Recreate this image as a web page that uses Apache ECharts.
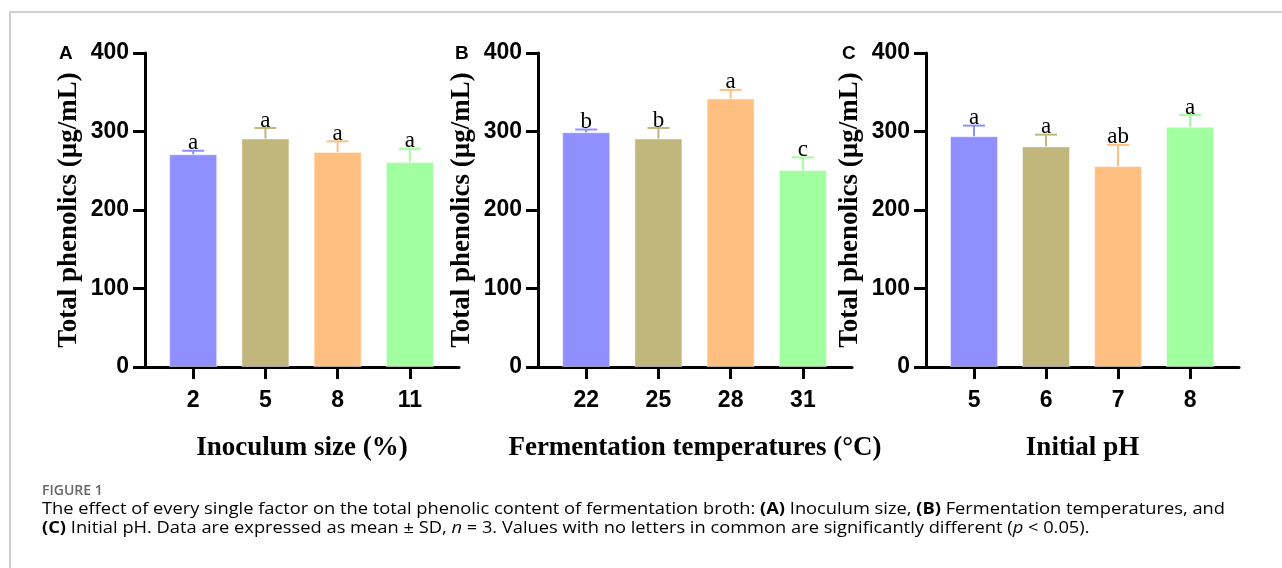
<!DOCTYPE html>
<html>
<head>
<meta charset="utf-8">
<style>
  html, body { margin: 0; padding: 0; background: #fff; }
  #chart { width: 1282px; height: 568px; }
</style>
<script src="https://cdn.jsdelivr.net/npm/echarts@6/dist/echarts.min.js"></script>
</head>
<body>
<div id="chart"></div>
<script>
// ---- data ----
const panelLetters = ['A', 'B', 'C'];
const catsA = ['2', '5', '8', '11'];
const meanA = [271, 291, 274, 261];
const sdA = [4.5, 13.5, 13.5, 17];
const sigA = ['a', 'a', 'a', 'a'];

const catsB = ['22', '25', '28', '31'];
const meanB = [299, 291, 342, 251];
const sdB = [3.5, 13.5, 11, 16];
const sigB = ['b', 'b', 'a', 'c'];

const catsC = ['5', '6', '7', '8'];
const meanC = [294, 281, 256, 306];
const sdC = [13.5, 15, 27, 15];
const sigC = ['a', 'a', 'ab', 'a'];

const xTitles = ['Inoculum size (%)', 'Fermentation temperatures (°C)', 'Initial pH'];
const yTitle = 'Total phenolics (µg/mL)';
const barColors = ['#8f8fff', '#c1b67c', '#ffbf80', '#a1ff9f'];

const captionHead = 'FIGURE 1';
const captionLine1 = [
  ['n', 'The effect of every single factor on the total phenolic content of fermentation broth: '],
  ['b', '(A)'], ['n', ' Inoculum size, '], ['b', '(B)'], ['n', ' Fermentation temperatures, and']
];
const captionLine2 = [
  ['b', '(C)'], ['n', ' Initial pH. Data are expressed as mean ± SD, '], ['i', 'n'],
  ['n', ' = 3. Values with no letters in common are significantly different ('], ['i', 'p'], ['n', ' < 0.05).']
];

// ---- build ----
const panels = [
  { cats: catsA, mean: meanA, sd: sdA, sig: sigA },
  { cats: catsB, mean: meanB, sd: sdB, sig: sigB },
  { cats: catsC, mean: meanC, sd: sdC, sig: sigC }
];
const gridLefts = [145, 538, 926];
const gridWidths = [314, 314, 313];
const labelX = [59, 455, 842];

const chart = echarts.init(document.getElementById('chart'), null, { renderer: 'canvas' });

const grid = [], xAxis = [], yAxis = [], series = [], graphic = [];
const idx = [0, 1, 2, 3];
const sansBold = 'Liberation Sans, Arial, sans-serif';
const serif = 'Liberation Serif, Times New Roman, serif';

panels.forEach((p, k) => {
  grid.push({ left: gridLefts[k], top: 53, width: gridWidths[k], height: 314, containLabel: false });
  xAxis.push({
    type: 'value', gridIndex: k, min: -0.667, max: 3.68,
    axisLine: { show: true, onZero: false, lineStyle: { color: '#000', width: 3 } },
    axisTick: { show: true, customValues: idx, length: 12, lineStyle: { color: '#000', width: 3 } },
    axisLabel: {
      customValues: idx, margin: 22, color: '#000', fontSize: 23, fontWeight: 'bold',
      fontFamily: sansBold,
      formatter: v => p.cats[Math.round(v)]
    },
    splitLine: { show: false },
    name: xTitles[k], nameLocation: 'middle', nameGap: 68,
    nameTextStyle: { color: '#000', fontSize: 27, fontWeight: 'bold', fontFamily: serif }
  });
  yAxis.push({
    type: 'value', gridIndex: k, min: 0, max: 400, interval: 100,
    axisLine: { show: true, onZero: false, lineStyle: { color: '#000', width: 3 } },
    axisTick: { show: true, length: 12, lineStyle: { color: '#000', width: 3 } },
    axisLabel: { margin: 16, color: '#000', fontSize: 23, fontWeight: 'bold', fontFamily: sansBold },
    splitLine: { show: false },
    name: yTitle, nameLocation: 'middle', nameGap: 62,
    nameTextStyle: { color: '#000', fontSize: 27, fontWeight: 'bold', fontFamily: serif }
  });
  series.push({
    type: 'bar', xAxisIndex: k, yAxisIndex: k, barWidth: 48,
    data: p.mean.map((v, i) => ({ value: [i, v], itemStyle: { color: barColors[i], borderColor: 'rgba(255,255,255,0.45)', borderWidth: 1 } })),
    silent: true, animation: false
  });
  series.push({
    type: 'custom', xAxisIndex: k, yAxisIndex: k, z: 5,
    data: p.mean.map((v, i) => [i, v, p.sd[i]]),
    renderItem: (params, api) => {
      const x = api.value(0), m = api.value(1), s = api.value(2);
      const p0 = api.coord([x, m]);
      const p1 = api.coord([x, m + s]);
      const c = barColors[params.dataIndex];
      return {
        type: 'group',
        children: [
          { type: 'line', shape: { x1: p0[0], y1: p0[1], x2: p1[0], y2: p1[1] }, style: { stroke: c, lineWidth: 2 } },
          { type: 'line', shape: { x1: p1[0] - 11, y1: p1[1], x2: p1[0] + 11, y2: p1[1] }, style: { stroke: c, lineWidth: 2 } },
          { type: 'text', x: p1[0], y: p1[1] + 4, style: {
              text: p.sig[params.dataIndex], align: 'center', verticalAlign: 'bottom',
              fill: '#000', font: '23px "Liberation Serif", "Times New Roman", serif' } }
        ]
      };
    },
    silent: true, animation: false
  });
  graphic.push({
    type: 'text', x: labelX[k], y: 54,
    style: { text: panelLetters[k], fill: '#000', font: 'bold 19px "Liberation Sans", Arial, sans-serif', verticalAlign: 'middle' }
  });
});

// frame
graphic.push({
  type: 'polyline', shape: { points: [[10, 568], [10, 12], [1282, 12]] },
  style: { stroke: '#cfcfcf', lineWidth: 2, fill: null }
});

// caption
const capSize = 16;
const capFonts = {
  n: capSize + 'px "Open Sans", sans-serif',
  b: 'bold ' + capSize + 'px "Open Sans", sans-serif',
  i: 'italic ' + capSize + 'px "Open Sans", sans-serif'
};
const ctx = document.createElement('canvas').getContext('2d');
function measure(segs) {
  let w = 0;
  segs.forEach(s => { ctx.font = capFonts[s[0]]; w += ctx.measureText(s[1]).width; });
  return w;
}
const capScale = 1183 / measure(captionLine1);
const capRich = {
  n: { fontFamily: 'Open Sans', fontSize: capSize, color: '#666' },
  b: { fontFamily: 'Open Sans', fontSize: capSize, color: '#444', fontWeight: 'bold' },
  i: { fontFamily: 'Open Sans', fontSize: capSize, color: '#666', fontStyle: 'italic' }
};
const toRich = segs => segs.map(s => '{' + s[0] + '|' + s[1] + '}').join('');

graphic.push({
  type: 'text', x: 42, y: 491,
  style: { text: captionHead, fill: '#666', font: '600 14px "Open Sans", sans-serif', verticalAlign: 'middle' }
});
graphic.push({
  type: 'text', x: 42, y: 509, scaleX: capScale,
  style: { text: toRich(captionLine1), rich: capRich, verticalAlign: 'middle' }
});
graphic.push({
  type: 'text', x: 42, y: 528, scaleX: capScale,
  style: { text: toRich(captionLine2), rich: capRich, verticalAlign: 'middle' }
});

chart.setOption({
  animation: false,
  backgroundColor: '#fff',
  grid, xAxis, yAxis, series, graphic
});
</script>
</body>
</html>
